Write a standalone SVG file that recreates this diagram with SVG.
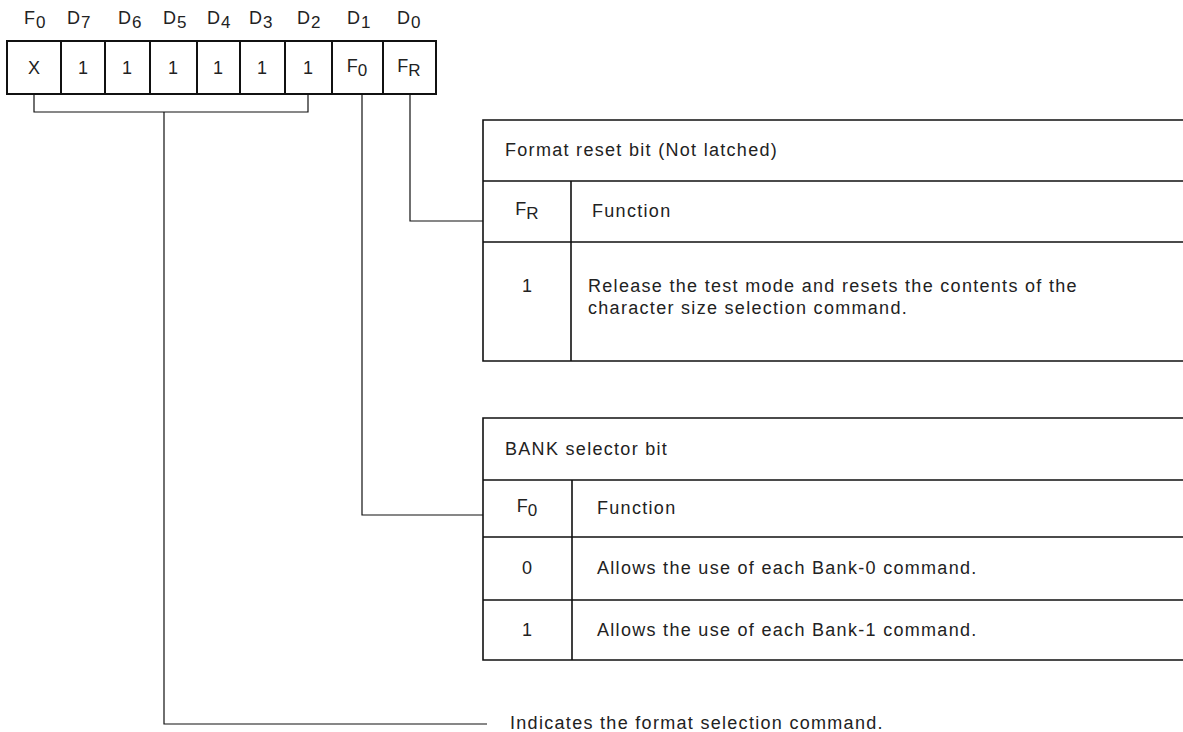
<svg xmlns="http://www.w3.org/2000/svg" width="1183" height="732" viewBox="0 0 1183 732">
<style>
text{font-family:"Liberation Sans",Arial,sans-serif;fill:#222;}
.lbl{font-size:18px;letter-spacing:1px;}
.cell{font-size:18px;text-anchor:middle;}
.t{font-size:18px;letter-spacing:1.3px;}
.c{font-size:18px;text-anchor:middle;}
.sub{font-size:17px;}
.box{fill:none;stroke:#111;stroke-width:2;}
.tb{fill:none;stroke:#111;stroke-width:1.6;}
.ln{fill:none;stroke:#111;stroke-width:1.2;}
</style>
<rect width="1183" height="732" fill="#fff"/>
<g id="register">
<rect class="box" x="7" y="41" width="429" height="53"/>
<path class="box" d="M61 41V94M105 41V94M150 41V94M197 41V94M240 41V94M285 41V94M332 41V94M383 41V94"/>
<g class="lbl">
<text x="24" y="24">F<tspan class="sub" dy="4">0</tspan></text>
<text x="67" y="24">D<tspan class="sub" dy="4">7</tspan></text>
<text x="118" y="24">D<tspan class="sub" dy="4">6</tspan></text>
<text x="163" y="24">D<tspan class="sub" dy="4">5</tspan></text>
<text x="207" y="24">D<tspan class="sub" dy="4">4</tspan></text>
<text x="249" y="24">D<tspan class="sub" dy="4">3</tspan></text>
<text x="297" y="24">D<tspan class="sub" dy="4">2</tspan></text>
<text x="347" y="24">D<tspan class="sub" dy="4">1</tspan></text>
<text x="397" y="24">D<tspan class="sub" dy="4">0</tspan></text>
</g>
<g class="cell">
<text x="34" y="74">X</text>
<text x="83" y="74">1</text>
<text x="127" y="74">1</text>
<text x="173" y="74">1</text>
<text x="218" y="74">1</text>
<text x="262" y="74">1</text>
<text x="308" y="74">1</text>
<text x="357" y="72">F<tspan class="sub" dy="4">0</tspan></text>
<text x="409" y="72">F<tspan class="sub" dy="4">R</tspan></text>
</g>
</g>
<g id="format-reset-table">
<path class="tb" d="M1183 120H483V361H1183M483 181H1183M483 242H1183M571 181V361"/>
<text class="t" x="505" y="156">Format reset bit (Not latched)</text>
<text class="c" x="527" y="215">F<tspan class="sub" dy="4">R</tspan></text>
<text class="t" x="592" y="217">Function</text>
<text class="c" x="527" y="292">1</text>
<text class="t" x="588" y="292">Release the test mode and resets the contents of the</text>
<text class="t" x="588" y="314">character size selection command.</text>
</g>
<g id="bank-table">
<path class="tb" d="M1183 418H483V660H1183M483 480H1183M483 537H1183M483 600H1183M572 480V660"/>
<text class="t" x="505" y="455">BANK selector bit</text>
<text class="c" x="527" y="512">F<tspan class="sub" dy="4">0</tspan></text>
<text class="t" x="597" y="514">Function</text>
<text class="c" x="527" y="574">0</text>
<text class="t" x="597" y="574">Allows the use of each Bank-0 command.</text>
<text class="c" x="527" y="636">1</text>
<text class="t" x="597" y="636">Allows the use of each Bank-1 command.</text>
</g>
<g id="format-note">
<text class="t" x="510" y="729">Indicates the format selection command.</text>
</g>
<g id="connectors">
<path class="ln" d="M34 94V112H308V94"/>
<path class="ln" d="M164 112V724H487"/>
<path class="ln" d="M362 94V515H483"/>
<path class="ln" d="M410 94V221H483"/>
</g>
</svg>
